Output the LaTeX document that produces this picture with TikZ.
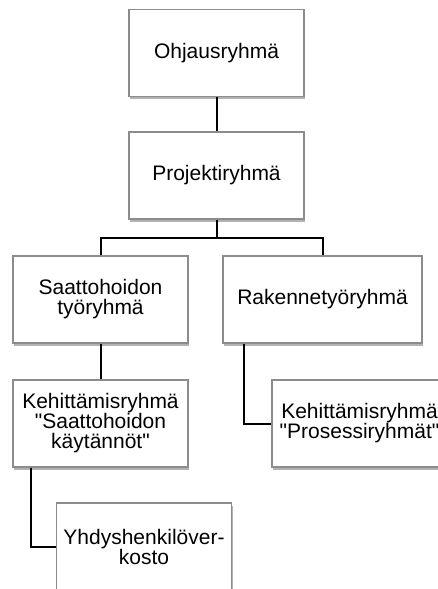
\documentclass[tikz,border=0pt]{standalone}
\usepackage{fontspec}
\setmainfont{Liberation Sans}[Ligatures=TeXOff]
\usepackage{tikz}
\usetikzlibrary{shadows}
\tikzset{
    orgbox/.style={draw=black!45,fill=white,line width=0.7pt,align=center,
        minimum width=87.5pt,minimum height=43.5pt,inner sep=2pt,
        font=\fontsize{10.5}{10}\selectfont,
        drop shadow={shadow xshift=0.7pt,shadow yshift=-1.3pt,fill=black!60,opacity=0.5}},
    link/.style={line width=1pt,draw=black}
}

\begin{document}
\begin{tikzpicture}[x=0.5pt,y=-0.5pt]
            \useasboundingbox (0,0) rectangle (438,589);
            \clip (0,0) rectangle (438,589);

            \node[orgbox] (ohjaus) at (216.5,53) {Ohjausryhmä};
            \node[orgbox] (projekti) at (216.5,175.5) {Projektiryhmä};
            \node[orgbox] (saatto) at (100.5,299.5) {Saattohoidon\\työryhmä};
            \node[orgbox,minimum width=99.5pt] (rakenne) at (322.5,299.5) {Rakennetyöryhmä};
            \node[orgbox] (kehsaatto) at (100.5,423.5) {Kehittämisryhmä\\"Saattohoidon\\käytännöt"};
            \node[orgbox] (kehprosessi) at (359.5,423.5) {Kehittämisryhmä\\"Prosessiryhmät"};
            \node[orgbox] (yhdys) at (144,546.5) {Yhdyshenkilöver-\\kosto};

            \coordinate (bus) at (216.5,238);
            \draw[link] (ohjaus) -- (projekti);
            \draw[link] (projekti) -- (bus);
            \draw[link] (saatto.north) |- (bus) -| (rakenne.north);
            \draw[link] (saatto) -- (kehsaatto);
            \draw[link] ([xshift=11pt]rakenne.south west) |- (kehprosessi.west);
            \draw[link] ([xshift=9.5pt]kehsaatto.south west) |- (yhdys.west);
\end{tikzpicture}
\end{document}
